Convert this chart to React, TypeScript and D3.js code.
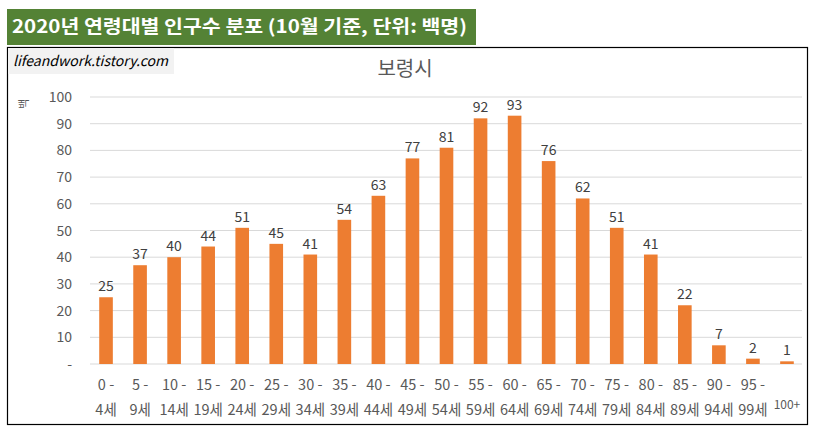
import { useEffect, useRef } from "react"
import * as d3 from "d3"

// 연령대 (두 줄 라벨)
const ageTop = ["0 -", "5 -", "10 -", "15 -", "20 -", "25 -", "30 -", "35 -", "40 -", "45 -", "50 -", "55 -", "60 -", "65 -", "70 -", "75 -", "80 -", "85 -", "90 -", "95 -", "100+"]
const ageBottom = ["4세", "9세", "14세", "19세", "24세", "29세", "34세", "39세", "44세", "49세", "54세", "59세", "64세", "69세", "74세", "79세", "84세", "89세", "94세", "99세", ""]
// 인구수 (백명)
const population = [25, 37, 40, 44, 51, 45, 41, 54, 63, 77, 81, 92, 93, 76, 62, 51, 41, 22, 7, 2, 1]
const yTicks = [0, 10, 20, 30, 40, 50, 60, 70, 80, 90, 100]

const W = 813
const H = 436
const FONT = "'Noto Sans CJK KR', 'Noto Sans', sans-serif"

export default function App() {
  const svgRef = useRef<SVGSVGElement>(null)

  useEffect(() => {
    if (!svgRef.current) return
    const svg = d3.select(svgRef.current)
    svg.selectAll("*").remove()

    // 상단 제목 배너
    svg.append("rect").attr("x", 7).attr("y", 9).attr("width", 469).attr("height", 36).attr("fill", "#548235")
    svg.append("text")
      .attr("x", 12).attr("y", 33)
      .attr("font-family", FONT).attr("font-size", 18).attr("font-weight", "bold")
      .attr("fill", "#ffffff")
      .attr("textLength", 455).attr("lengthAdjust", "spacingAndGlyphs")
      .text("2020년 연령대별 인구수 분포 (10월 기준, 단위: 백명)")

    // 차트 테두리
    svg.append("rect").attr("x", 7.5).attr("y", 47.5).attr("width", 800).attr("height", 377)
      .attr("fill", "#ffffff").attr("stroke", "#000000").attr("stroke-width", 1.2)

    // 워터마크
    svg.append("rect").attr("x", 8).attr("y", 48).attr("width", 166).attr("height", 26).attr("fill", "#f2f2f2")
    svg.append("text")
      .attr("x", 13).attr("y", 66)
      .attr("font-family", FONT).attr("font-size", 14).attr("font-style", "italic")
      .attr("fill", "#000000")
      .attr("textLength", 155).attr("lengthAdjust", "spacingAndGlyphs")
      .text("lifeandwork.tistory.com")

    // 차트 제목
    svg.append("text")
      .attr("x", 405).attr("y", 76)
      .attr("text-anchor", "middle")
      .attr("font-family", FONT).attr("font-size", 20)
      .attr("fill", "#595959")
      .text("보령시")

    const x = d3.scaleBand<number>().domain(d3.range(population.length)).range([89, 804]).paddingInner(0.6).paddingOuter(0.3)
    const y = d3.scaleLinear().domain([0, 100]).range([364, 97])

    // 가로 격자
    svg.append("g").selectAll("line").data(yTicks).join("line")
      .attr("x1", 90).attr("x2", 802)
      .attr("y1", (d) => y(d)).attr("y2", (d) => y(d))
      .attr("stroke", "#d9d9d9").attr("stroke-width", 1)

    // y축 눈금 라벨
    svg.append("g").selectAll("text").data(yTicks).join("text")
      .attr("x", 72).attr("y", (d) => y(d) + 5)
      .attr("text-anchor", "end")
      .attr("font-family", FONT).attr("font-size", 14)
      .attr("fill", "#595959")
      .text((d) => (d === 0 ? "-" : String(d)))

    // y축 제목 (회전)
    svg.append("text")
      .attr("transform", `translate(28,104) rotate(-90)`)
      .attr("text-anchor", "middle")
      .attr("font-family", FONT).attr("font-size", 11)
      .attr("fill", "#595959")
      .text("백")

    // 막대
    svg.append("g").selectAll("rect").data(population).join("rect")
      .attr("x", (_, i) => x(i)!)
      .attr("width", x.bandwidth())
      .attr("y", (d) => y(d))
      .attr("height", (d) => y(0) - y(d))
      .attr("fill", "#ed7d31")

    // 데이터 라벨
    svg.append("g").selectAll("text").data(population).join("text")
      .attr("x", (_, i) => x(i)! + x.bandwidth() / 2)
      .attr("y", (d) => y(d) - 6)
      .attr("text-anchor", "middle")
      .attr("font-family", FONT).attr("font-size", 14)
      .attr("fill", "#404040")
      .text((d) => String(d))

    // x축 라벨
    const xl = svg.append("g")
    ageTop.forEach((t, i) => {
      const cx = x(i)! + x.bandwidth() / 2
      const last = ageBottom[i] === ""
      xl.append("text")
        .attr("x", cx).attr("y", last ? 409 : 390)
        .attr("text-anchor", "middle")
        .attr("font-family", FONT).attr("font-size", last ? 12 : 14.5)
        .attr("fill", "#595959")
        .text(t)
      if (!last) {
        xl.append("text")
          .attr("x", cx).attr("y", 415)
          .attr("text-anchor", "middle")
          .attr("font-family", FONT).attr("font-size", 14.5)
          .attr("fill", "#595959")
          .text(ageBottom[i])
      }
    })
  }, [])

  return (
    <div style={{ position: "absolute", left: 0, top: 0, background: "#ffffff" }}>
      <svg ref={svgRef} width={W} height={H} />
    </div>
  )
}
